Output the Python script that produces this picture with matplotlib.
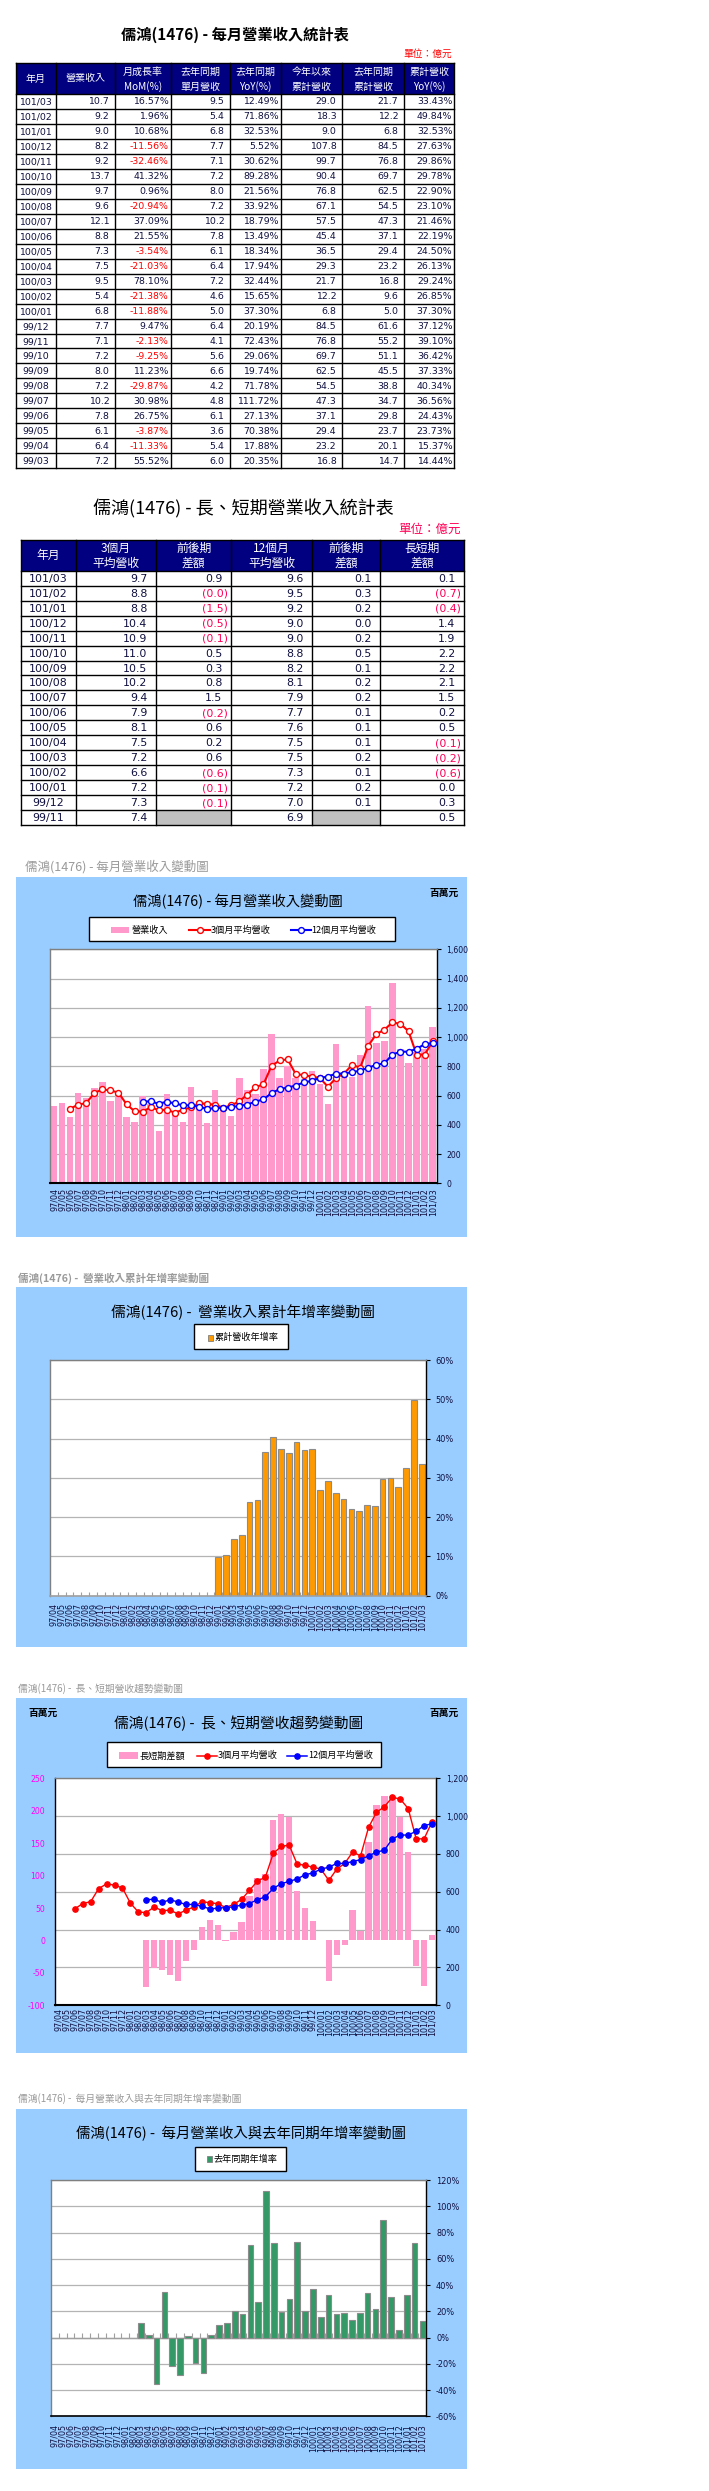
import numpy as np
import matplotlib
matplotlib.use('Agg')
import matplotlib.pyplot as plt
from matplotlib import font_manager as fm
from matplotlib.patches import Rectangle

W, H = 709, 2491


def has_font(name):
    try:
        fm.findfont(fm.FontProperties(family=name), fallback_to_default=False)
        return True
    except Exception:
        return False


CJK = ['Noto Sans CJK TC', 'DejaVu Sans']
HAS_NARROW = has_font('Liberation Sans Narrow')
NARROW = 'Liberation Sans Narrow' if HAS_NARROW else 'DejaVu Sans'
NS = 1.0 if HAS_NARROW else 0.82
plt.rcParams['font.family'] = CJK

# ---------------- data ----------------
months1 = ['101/03', '101/02', '101/01', '100/12', '100/11', '100/10', '100/09', '100/08', '100/07',
           '100/06', '100/05', '100/04', '100/03', '100/02', '100/01', '99/12', '99/11', '99/10',
           '99/09', '99/08', '99/07', '99/06', '99/05', '99/04', '99/03']
rev1 = [10.7, 9.2, 9.0, 8.2, 9.2, 13.7, 9.7, 9.6, 12.1, 8.8, 7.3, 7.5, 9.5, 5.4, 6.8, 7.7, 7.1, 7.2,
        8.0, 7.2, 10.2, 7.8, 6.1, 6.4, 7.2]
mom1 = [16.57, 1.96, 10.68, -11.56, -32.46, 41.32, 0.96, -20.94, 37.09, 21.55, -3.54, -21.03, 78.10,
        -21.38, -11.88, 9.47, -2.13, -9.25, 11.23, -29.87, 30.98, 26.75, -3.87, -11.33, 55.52]
prev1 = [9.5, 5.4, 6.8, 7.7, 7.1, 7.2, 8.0, 7.2, 10.2, 7.8, 6.1, 6.4, 7.2, 4.6, 5.0, 6.4, 4.1, 5.6,
         6.6, 4.2, 4.8, 6.1, 3.6, 5.4, 6.0]
yoy1 = [12.49, 71.86, 32.53, 5.52, 30.62, 89.28, 21.56, 33.92, 18.79, 13.49, 18.34, 17.94, 32.44,
        15.65, 37.30, 20.19, 72.43, 29.06, 19.74, 71.78, 111.72, 27.13, 70.38, 17.88, 20.35]
cum1 = [29.0, 18.3, 9.0, 107.8, 99.7, 90.4, 76.8, 67.1, 57.5, 45.4, 36.5, 29.3, 21.7, 12.2, 6.8,
        84.5, 76.8, 69.7, 62.5, 54.5, 47.3, 37.1, 29.4, 23.2, 16.8]
cum_prev1 = [21.7, 12.2, 6.8, 84.5, 76.8, 69.7, 62.5, 54.5, 47.3, 37.1, 29.4, 23.2, 16.8, 9.6, 5.0,
             61.6, 55.2, 51.1, 45.5, 38.8, 34.7, 29.8, 23.7, 20.1, 14.7]
cum_yoy1 = [33.43, 49.84, 32.53, 27.63, 29.86, 29.78, 22.90, 23.10, 21.46, 22.19, 24.50, 26.13,
            29.24, 26.85, 37.30, 37.12, 39.10, 36.42, 37.33, 40.34, 36.56, 24.43, 23.73, 15.37, 14.44]

months2 = ['101/03', '101/02', '101/01', '100/12', '100/11', '100/10', '100/09', '100/08', '100/07',
           '100/06', '100/05', '100/04', '100/03', '100/02', '100/01', '99/12', '99/11']
avg3_t = [9.7, 8.8, 8.8, 10.4, 10.9, 11.0, 10.5, 10.2, 9.4, 7.9, 8.1, 7.5, 7.2, 6.6, 7.2, 7.3, 7.4]
avg3_chg = [0.9, -0.04, -1.5, -0.5, -0.1, 0.5, 0.3, 0.8, 1.5, -0.2, 0.6, 0.2, 0.6, -0.6, -0.1, -0.1, None]
avg12_t = [9.6, 9.5, 9.2, 9.0, 9.0, 8.8, 8.2, 8.1, 7.9, 7.7, 7.6, 7.5, 7.5, 7.3, 7.2, 7.0, 6.9]
avg12_chg = [0.1, 0.3, 0.2, 0.0, 0.2, 0.5, 0.1, 0.2, 0.2, 0.1, 0.1, 0.1, 0.2, 0.1, 0.2, 0.1, None]
ls_gap_t = [0.1, -0.7, -0.4, 1.4, 1.9, 2.2, 2.2, 2.1, 1.5, 0.2, 0.5, -0.1, -0.2, -0.6, 0.0, 0.3, 0.5]

months = ['97/04', '97/05', '97/06', '97/07', '97/08', '97/09', '97/10', '97/11', '97/12',
          '98/01', '98/02', '98/03', '98/04', '98/05', '98/06', '98/07', '98/08', '98/09',
          '98/10', '98/11', '98/12', '99/01', '99/02', '99/03', '99/04', '99/05', '99/06',
          '99/07', '99/08', '99/09', '99/10', '99/11', '99/12', '100/01', '100/02', '100/03',
          '100/04', '100/05', '100/06', '100/07', '100/08', '100/09', '100/10', '100/11',
          '100/12', '101/01', '101/02', '101/03']
nan = np.nan
revenue = [530, 550, 450, 615, 580, 655, 690, 560, 610, 450, 420, 600,
           540, 360, 610, 480, 420, 660, 560, 410, 640, 500, 460, 720,
           640, 610, 780, 1020, 720, 800, 720, 710, 770, 680, 540, 950,
           750, 730, 880, 1210, 960, 970, 1370, 920, 820, 900, 920, 1070]
avg3 = [nan, nan, 510, 538, 548, 617, 642, 635, 620, 540, 493, 490,
        520, 500, 503, 483, 503, 520, 547, 543, 537, 517, 533, 560,
        607, 657, 677, 803, 840, 847, 747, 740, 730, 720, 660, 720,
        750, 810, 790, 940, 1020, 1050, 1100, 1090, 1040, 880, 880, 970]
avg12 = [nan, nan, nan, nan, nan, nan, nan, nan, nan, nan, nan, 559,
         560, 544, 558, 546, 533, 533, 523, 510, 513, 517, 520, 530,
         538, 559, 573, 618, 643, 655, 668, 690, 700, 720, 730, 750,
         750, 760, 770, 790, 810, 820, 880, 900, 900, 920, 950, 960]
ls_gap = [nan, nan, nan, nan, nan, nan, nan, nan, nan, nan, nan, -72,
          -43, -46, -54, -63, -32, -15, 21, 32, 24, -1, 13, 29,
          68, 97, 103, 185, 195, 190, 77, 50, 30, 0.5, -62, -22,
          -7, 47, 15, 152, 209, 222, 222, 190, 136, -40, -70, 8]
cum_yoy = [nan] * 21 + [9.8, 10.3, 14.44, 15.37, 23.73, 24.43, 36.56, 40.34, 37.33, 36.42,
                        39.10, 37.12, 37.30, 26.85, 29.24, 26.13, 24.50, 22.19, 21.46, 23.10,
                        22.90, 29.78, 29.86, 27.63, 32.53, 49.84, 33.43]
yoy = [nan] * 11 + [10.8, 2.0, -35.5, 35.0, -21.5, -28.5, 1.3, -19.5, -27.0, 2.0, 9.8, 11.4,
                    20.35, 17.88, 70.38, 27.13, 111.72, 71.78, 19.74, 29.06, 72.43, 20.19,
                    37.30, 15.65, 32.44, 17.94, 18.34, 13.49, 18.79, 33.92, 21.56, 89.28,
                    30.62, 5.52, 32.53, 71.86, 12.49]

# ---------------- styles ----------------
NAVY = '#000080'
TXT = '#101040'
RED = '#FF0000'
RED2 = '#FF0055'
PANEL = '#99CCFF'
PINK = '#FF99CC'
ORANGE = '#FF9900'
GREEN = '#339966'
GRID = '#B4B4B4'
CAP = '#9A9A9A'

fig = plt.figure(figsize=(W / 100, H / 100), dpi=100)
fig.patch.set_facecolor('white')
cv = fig.add_axes([0, 0, 1, 1])
cv.set_xlim(0, W)
cv.set_ylim(H, 0)
cv.axis('off')


def px_axes(x0, y0, x1, y1):
    return fig.add_axes([x0 / W, 1 - y1 / H, (x1 - x0) / W, (y1 - y0) / H])


def hline(x0, x1, y, **kw):
    cv.plot([x0, x1], [y, y], color='black', lw=1, solid_capstyle='projecting', **kw)


def vline(x, y0, y1, **kw):
    cv.plot([x, x], [y0, y1], color='black', lw=1, solid_capstyle='projecting', **kw)


def grid_table(cols, top, head_h, row_h, nrows):
    cv.add_patch(Rectangle((cols[0], top), cols[-1] - cols[0], head_h, fc=NAVY, ec='none'))
    bottom = top + head_h + row_h * nrows
    for xc in cols:
        vline(xc, top, bottom)
    hline(cols[0], cols[-1], top)
    for i in range(nrows + 1):
        hline(cols[0], cols[-1], top + head_h + i * row_h)


# ---------------- table 1 ----------------
cv.text(235, 35, '儒鴻(1476) - 每月營業收入統計表', ha='center', va='center',
        fontsize=11, fontweight='bold', color='black')
cv.text(452, 53.5, '單位：億元', ha='right', va='center', fontsize=7, color=RED)
T1 = [16, 55.7, 115.3, 170.7, 230.3, 280.7, 342.3, 404.3, 454.3]
T1_TOP, T1_HEAD, RH = 63, 31, 14.97
grid_table(T1, T1_TOP, T1_HEAD, RH, len(months1))
heads1 = [['年月'], ['營業收入'], ['月成長率', 'MoM(%)'], ['去年同期', '單月營收'], ['去年同期', 'YoY(%)'],
          ['今年以來', '累計營收'], ['去年同期', '累計營收'], ['累計營收', 'YoY(%)']]
for j, lines in enumerate(heads1):
    xc = (T1[j] + T1[j + 1]) / 2
    if len(lines) == 1:
        cv.text(xc, 78.5, lines[0], ha='center', va='center', fontsize=7.2, color='white')
    else:
        cv.text(xc, 71.7, lines[0], ha='center', va='center', fontsize=7.2, color='white')
        cv.text(xc, 86.7, lines[1], ha='center', va='center', fontsize=7.2, color='white')


def f1(v):
    return f'{v:.1f}'


def fp(v):
    return f'{v:.2f}%'


cols1 = [(rev1, f1, 6), (mom1, fp, 2), (prev1, f1, 6), (yoy1, fp, 2),
         (cum1, f1, 6), (cum_prev1, f1, 6), (cum_yoy1, fp, 2)]
for i, m in enumerate(months1):
    yc = T1_TOP + T1_HEAD + (i + 0.5) * RH + 0.5
    cv.text((T1[0] + T1[1]) / 2, yc, m, ha='center', va='center', family=NARROW,
            fontsize=8.2 * NS, color=TXT)
    for j, (vals, f, pad) in enumerate(cols1):
        v = vals[i]
        c = RED if (j == 1 and v < 0) else TXT
        cv.text(T1[j + 2] - pad, yc, f(v), ha='right', va='center', family=NARROW,
                fontsize=8.2 * NS, color=c)

# ---------------- table 2 ----------------
cv.text(243, 508.5, '儒鴻(1476) - 長、短期營業收入統計表', ha='center', va='center',
        fontsize=13, color='black')
cv.text(461, 529.5, '單位：億元', ha='right', va='center', fontsize=9, color=RED2)
T2 = [21.3, 75.7, 156.3, 231.3, 312.3, 380.3, 464.3]
T2_TOP, T2_HEAD = 540.3, 30.4
for i, v in enumerate(avg3_chg):
    if v is None:
        y0 = T2_TOP + T2_HEAD + i * RH
        cv.add_patch(Rectangle((T2[2], y0), T2[3] - T2[2], RH, fc='#C0C0C0', ec='none'))
        cv.add_patch(Rectangle((T2[4], y0), T2[5] - T2[4], RH, fc='#C0C0C0', ec='none'))
grid_table(T2, T2_TOP, T2_HEAD, RH, len(months2))
heads2 = [['年月'], ['3個月', '平均營收'], ['前後期', '差額'], ['12個月', '平均營收'],
          ['前後期', '差額'], ['長短期', '差額']]
for j, lines in enumerate(heads2):
    xc = (T2[j] + T2[j + 1]) / 2
    if len(lines) == 1:
        cv.text(xc, 555.5, lines[0], ha='center', va='center', fontsize=8.5, color='white')
    else:
        cv.text(xc, 548.5, lines[0], ha='center', va='center', fontsize=8.5, color='white')
        cv.text(xc, 563.5, lines[1], ha='center', va='center', fontsize=8.5, color='white')


def fparen(v):
    if v < 0:
        return f'({abs(v):.1f})', RED2, 3
    return f'{v:.1f}', TXT, 9


for i, m in enumerate(months2):
    yc = T2_TOP + T2_HEAD + (i + 0.5) * RH + 0.5
    cv.text((T2[0] + T2[1]) / 2, yc, m, ha='center', va='center', family='DejaVu Sans',
            fontsize=7.9, color=TXT)
    for j, vals in enumerate([avg3_t, avg3_chg, avg12_t, avg12_chg, ls_gap_t]):
        v = vals[i]
        if v is None:
            continue
        s, c, pad = fparen(v)
        cv.text(T2[j + 2] - pad, yc, s, ha='right', va='center', family='DejaVu Sans',
                fontsize=7.9, color=c)

# ---------------- common chart helpers ----------------
x = np.arange(len(months))


def panel(y0, y1):
    cv.add_patch(Rectangle((16, y0), 467 - 16, y1 - y0, fc=PANEL, ec='none'))


def style_x(ax, pad):
    ax.set_xlim(-0.5, len(months) - 0.5)
    ax.set_xticks(x)
    ax.set_xticklabels(months, rotation=90, fontsize=5.8, family='DejaVu Sans', color=TXT)
    ax.tick_params(axis='x', which='major', length=0, pad=pad)


def right_y(ax, ticks, labels, size, pad=3):
    ax.yaxis.tick_right()
    ax.set_yticks(ticks)
    ax.set_yticklabels(labels, family=NARROW, fontsize=size * NS, color=TXT)
    ax.tick_params(axis='y', length=3, direction='out', pad=pad, color='black')


def spines(ax, left='#808080', top='#808080', right='black', bottom='black', bw=1.5):
    ax.spines['left'].set_color(left)
    ax.spines['top'].set_color(top)
    ax.spines['right'].set_color(right)
    ax.spines['bottom'].set_color(bottom)
    ax.spines['bottom'].set_linewidth(bw)
    for s in ['left', 'top', 'right']:
        ax.spines[s].set_linewidth(1)


def legend_box(x0, y0, x1, y1):
    cv.add_patch(Rectangle((x0, y0), x1 - x0, y1 - y0, fc='white', ec='black', lw=1, zorder=5))


def legend_line(x0, x1, y, color, filled, label, tx):
    cv.plot([x0, x1], [y, y], color=color, lw=1.5 if not filled else 1.1, zorder=6)
    cv.plot([(x0 + x1) / 2], [y], marker='o', ms=4.2 if not filled else 3.8, color=color,
            mfc='white' if not filled else color, mec=color, mew=1, zorder=7)
    cv.text(tx, y, label, ha='left', va='center', fontsize=6.6, color='black', zorder=7)


# ---------------- chart 1 ----------------
cv.text(25, 866.7, '儒鴻(1476) - 每月營業收入變動圖', ha='left', va='center', fontsize=9, color=CAP)
panel(877, 1236.7)
cv.text(238, 901.5, '儒鴻(1476) - 每月營業收入變動圖', ha='center', va='center', fontsize=10.3,
        color='black')
cv.text(443.7, 893, '百萬元', ha='center', va='center', fontsize=7, fontweight='bold', color='black')
legend_box(88.7, 917.3, 394.7, 941.3)
cv.add_patch(Rectangle((110.7, 926.8), 18.6, 6.4, fc=PINK, ec='none', zorder=6))
cv.text(131.7, 930, '營業收入', ha='left', va='center', fontsize=6.6, color='black', zorder=7)
legend_line(189.3, 210, 930, '#FF0000', False, '3個月平均營收', 210.7)
legend_line(290.7, 310.7, 930, '#0000FF', False, '12個月平均營收', 311.7)

ax1 = px_axes(50, 949.3, 436.7, 1183.3)
ax1.bar(x, revenue, 0.8, color=PINK, zorder=2)
ax1.plot(x, avg3, '-o', color='#FF0000', lw=1.5, ms=4.3, mfc='white', mec='#FF0000', mew=1,
         zorder=3)
ax1.plot(x, avg12, '-o', color='#0000FF', lw=1.5, ms=4.3, mfc='white', mec='#0000FF', mew=1,
         zorder=3)
ax1.set_ylim(0, 1600)
yt1 = np.arange(0, 1601, 200)
right_y(ax1, yt1, [f'{v:,}' for v in yt1], 6.8, pad=4)
ax1.grid(axis='y', color=GRID, lw=0.9)
ax1.set_axisbelow(True)
style_x(ax1, 3.6)
spines(ax1)

# ---------------- chart 2 ----------------
cv.text(18, 1278.3, '儒鴻(1476) -  營業收入累計年增率變動圖', ha='left', va='center', fontsize=7.6,
        fontweight='bold', color=CAP)
panel(1287.3, 1647.3)
cv.text(243, 1312.5, '儒鴻(1476) -  營業收入累計年增率變動圖', ha='center', va='center',
        fontsize=10.6, color='black')
legend_box(194.3, 1324.3, 288, 1349.3)
cv.add_patch(Rectangle((208.3, 1335), 4.2, 5.6, fc=ORANGE, ec='#808080', lw=0.6, zorder=6))
cv.text(214.3, 1337.7, '累計營收年增率', ha='left', va='center', fontsize=6.6, color='black', zorder=7)

ax2 = px_axes(50, 1360, 425.7, 1595.7)
ax2.bar(x, cum_yoy, 0.72, color=ORANGE, edgecolor='#8C8C8C', lw=0.8, zorder=2)
ax2.set_ylim(0, 60)
yt2 = np.arange(0, 61, 10)
right_y(ax2, yt2, [f'{v}%' for v in yt2], 7.2, pad=4)
ax2.grid(axis='y', color=GRID, lw=0.9)
ax2.set_axisbelow(True)
style_x(ax2, 5.5)
ax2.set_xticks(np.arange(-0.5, len(months), 1), minor=True)
ax2.tick_params(axis='x', which='minor', direction='in', length=3, color='#A0A0A0', width=0.8)
spines(ax2, bottom='#A0A0A0', bw=1.2)

# ---------------- chart 3 ----------------
cv.text(18, 1688.3, '儒鴻(1476) -  長、短期營收趨勢變動圖', ha='left', va='center', fontsize=7,
        color=CAP)
panel(1697.7, 2053)
cv.text(239, 1723, '儒鴻(1476) -  長、短期營收趨勢變動圖', ha='center', va='center',
        fontsize=10.6, color='black')
cv.text(43, 1713.3, '百萬元', ha='center', va='center', fontsize=7, fontweight='bold', color='black')
cv.text(443.7, 1713.3, '百萬元', ha='center', va='center', fontsize=7, fontweight='bold',
        color='black')
legend_box(107.3, 1742.3, 380.7, 1766.7)
cv.add_patch(Rectangle((119.3, 1752.3), 19, 6.7, fc=PINK, ec='none', zorder=6))
cv.text(140, 1755.7, '長短期差額', ha='left', va='center', fontsize=6.6, color='black', zorder=7)
legend_line(196.7, 216.7, 1755.7, '#FF0000', True, '3個月平均營收', 217.3)
legend_line(287.3, 307.3, 1755.7, '#0000FF', True, '12個月平均營收', 308.3)

ax3 = px_axes(55, 1778.3, 436, 2005.3)
L0, L1 = -100, 250
R0, R1 = 0, 1200
yt3r = np.arange(R0, R1 + 1, 200)
for v in yt3r:
    ax3.axhline(L0 + (v - R0) / (R1 - R0) * (L1 - L0), color=GRID, lw=0.9, zorder=0)
ax3.bar(x, ls_gap, 0.8, color=PINK, zorder=2)
ax3.set_ylim(L0, L1)
yt3 = np.arange(L0, L1 + 1, 50)
ax3.set_yticks(yt3)
ax3.set_yticklabels([str(v) for v in yt3], family=NARROW, fontsize=6.8 * NS, color='#FF00FF')
ax3.tick_params(axis='y', length=0, pad=7)
style_x(ax3, 2)
spines(ax3, left='black')
ax3r = ax3.twinx()
ax3r.plot(x, avg3, '-o', color='#FF0000', lw=1.0, ms=3.8, zorder=3)
ax3r.plot(x, avg12, '-o', color='#0000FF', lw=1.0, ms=3.8, zorder=3)
ax3r.set_ylim(R0, R1)
right_y(ax3r, yt3r, [f'{v:,}' for v in yt3r], 6.8, pad=4)
for s in ['left', 'top', 'bottom']:
    ax3r.spines[s].set_visible(False)
ax3r.spines['right'].set_color('black')

# ---------------- chart 4 ----------------
cv.text(18, 2098.3, '儒鴻(1476) -  每月營業收入與去年同期年增率變動圖', ha='left', va='center',
        fontsize=7, color=CAP)
panel(2109, 2468.7)
cv.text(240.8, 2133.7, '儒鴻(1476) -  每月營業收入與去年同期年增率變動圖', ha='center', va='center',
        fontsize=10.4, color='black')
legend_box(195, 2146.7, 285.7, 2170.7)
cv.add_patch(Rectangle((207.3, 2155.8), 4.4, 6.6, fc=GREEN, ec='#808080', lw=0.6, zorder=6))
cv.text(214, 2159.3, '去年同期年增率', ha='left', va='center', fontsize=6.6, color='black', zorder=7)

ax4 = px_axes(51, 2180, 426.3, 2416.3)
ax4.bar(x, yoy, 0.72, color=GREEN, edgecolor='#8C8C8C', lw=0.8, zorder=2)
ax4.set_ylim(-60, 120)
yt4 = np.arange(-60, 121, 20)
right_y(ax4, yt4, [f'{v}%' for v in yt4], 7.2, pad=4)
ax4.grid(axis='y', color=GRID, lw=0.9)
ax4.set_axisbelow(True)
ax4.axhline(0, color='#A0A0A0', lw=1, zorder=1)
ax4.vlines(np.arange(-0.5, len(months), 1), 0, 3.2, color='#A0A0A0', lw=0.8, zorder=1)
style_x(ax4, 5.5)
spines(ax4, bw=1.2)

fig.savefig('out.png', dpi=100, facecolor='white')
